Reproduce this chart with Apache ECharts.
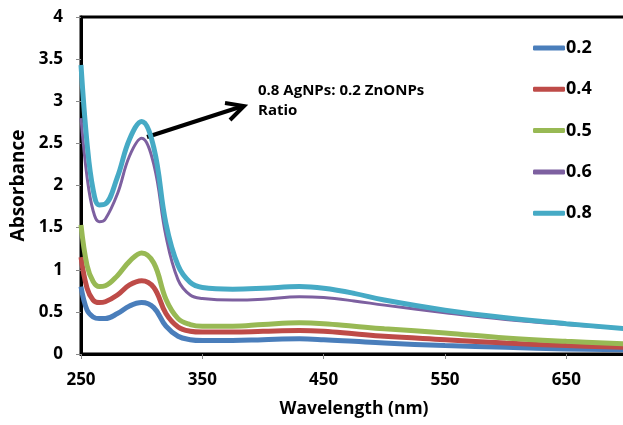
<!DOCTYPE html>
<html>
<head>
<meta charset="utf-8">
<script src="https://cdn.jsdelivr.net/npm/echarts@6/dist/echarts.min.js"></script>
<style>
  html, body { margin: 0; padding: 0; background: #fff; }
  #chart { width: 623px; height: 425px; }
</style>
</head>
<body>
<div id="chart"></div>
<script>
// wavelengths (nm)
var wavelength = [250, 255, 260, 265, 270, 280, 290, 300, 310, 320, 330, 340, 350, 375, 400, 430, 450, 475, 500, 550, 600, 650, 700];

// absorbance per ratio
var abs02 = [0.8, 0.52, 0.44, 0.42, 0.42, 0.48, 0.57, 0.61, 0.55, 0.33, 0.21, 0.17, 0.16, 0.16, 0.17, 0.18, 0.17, 0.15, 0.13, 0.10, 0.08, 0.06, 0.05];
var abs04 = [1.15, 0.78, 0.64, 0.61, 0.62, 0.70, 0.82, 0.87, 0.79, 0.48, 0.32, 0.27, 0.26, 0.26, 0.27, 0.28, 0.27, 0.24, 0.21, 0.17, 0.13, 0.10, 0.08];
var abs05 = [1.53, 1.05, 0.86, 0.80, 0.81, 0.93, 1.10, 1.20, 1.08, 0.65, 0.42, 0.35, 0.33, 0.33, 0.35, 0.37, 0.36, 0.33, 0.30, 0.25, 0.19, 0.15, 0.12];
var abs06 = [2.8, 2.1, 1.7, 1.57, 1.60, 1.90, 2.35, 2.56, 2.25, 1.40, 0.88, 0.70, 0.66, 0.64, 0.65, 0.68, 0.67, 0.63, 0.58, 0.49, 0.41, 0.35, 0.30];
var abs08 = [3.43, 2.5, 1.95, 1.77, 1.78, 2.10, 2.55, 2.76, 2.45, 1.55, 1.05, 0.85, 0.79, 0.77, 0.78, 0.80, 0.78, 0.72, 0.64, 0.52, 0.43, 0.36, 0.30];

var seriesNames = ["0.2", "0.4", "0.5", "0.6", "0.8"];
var seriesData = [abs02, abs04, abs05, abs06, abs08];
var colors = ["#4a7ebb", "#be4b48", "#98b954", "#7d60a0", "#46aac5"];
var widths = [5, 5, 5, 3, 5];

function pairs(ys) {
  return wavelength.map(function (x, i) { return [x, ys[i]]; });
}

var font = "'Open Sans', sans-serif";

var chart = echarts.init(document.getElementById("chart"));
chart.setOption({
  animation: false,
  grid: {
    left: 81, right: -4, top: 17, bottom: 71,
    outerBoundsMode: "none", containLabel: false,
    show: true, borderColor: "#000", borderWidth: 3
  },
  legend: {
    orient: "vertical",
    left: 528, top: 34,
    icon: "roundRect",
    itemWidth: 32, itemHeight: 5, itemGap: 23.3,
    textStyle: { fontFamily: font, fontWeight: "bold", fontSize: 18, color: "#000", padding: [0, 0, 0, -4] },
    data: seriesNames
  },
  xAxis: {
    type: "value", min: 250, max: 700, interval: 100,
    name: "Wavelength (nm)", nameLocation: "middle", nameGap: 46,
    nameTextStyle: { fontFamily: font, fontWeight: "bold", fontSize: 17.5, color: "#000" },
    axisLine: { lineStyle: { color: "#000", width: 3 } },
    axisTick: { show: true, length: 5, lineStyle: { color: "#888" } },
    axisLabel: { fontFamily: font, fontWeight: "bold", fontSize: 17, color: "#000", margin: 18,
      formatter: function (v) { return v >= 700 ? "" : v; } },
    splitLine: { show: false }
  },
  yAxis: {
    type: "value", min: 0, max: 4, interval: 0.5,
    name: "Absorbance", nameLocation: "middle", nameGap: 53,
    nameTextStyle: { fontFamily: font, fontWeight: "bold", fontSize: 19, color: "#000" },
    axisLine: { lineStyle: { color: "#000", width: 3 } },
    axisTick: { show: true, length: 5, lineStyle: { color: "#888" } },
    axisLabel: { fontFamily: font, fontWeight: "bold", fontSize: 17, color: "#000", margin: 18 },
    splitLine: { show: false }
  },
  series: seriesNames.map(function (n, i) {
    return {
      name: n, type: "line", smooth: 0.4, showSymbol: false, symbol: "none",
      data: pairs(seriesData[i]),
      z: 2 + i,
      lineStyle: { color: colors[i], width: widths[i] },
      itemStyle: { color: colors[i] }
    };
  }),
  graphic: [
    {
      type: "text", left: 258, top: 81,
      style: { text: "0.8 AgNPs: 0.2 ZnONPs\nRatio", fontFamily: font, fontWeight: "bold",
        fontSize: 15, lineHeight: 20, fill: "#000" }
    },
    {
      type: "line", shape: { x1: 147, y1: 137, x2: 243, y2: 106 },
      style: { stroke: "#000", lineWidth: 4 }
    },
    {
      type: "polyline", shape: { points: [[225, 103], [244, 106], [230, 120]] },
      style: { stroke: "#000", lineWidth: 4, fill: null, lineJoin: "miter" }
    }
  ]
});
</script>
</body>
</html>
